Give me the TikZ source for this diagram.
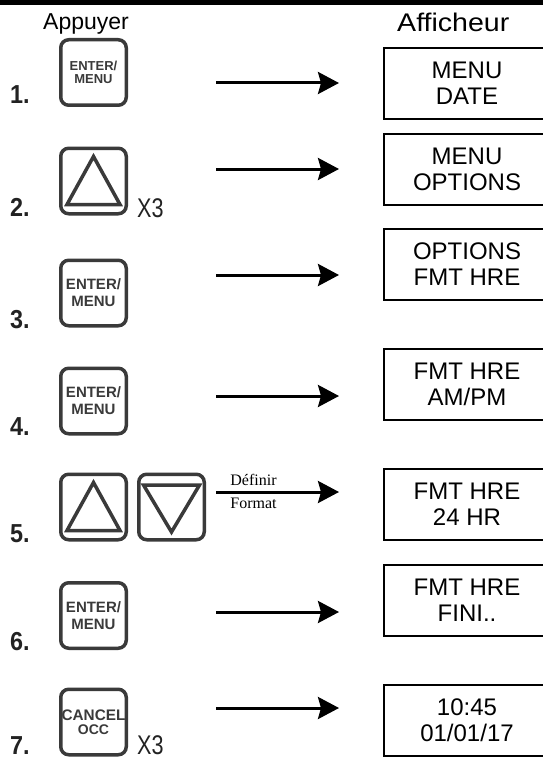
\documentclass[tikz,border=0pt]{standalone}
\usepackage{fontspec}
\setmainfont{Liberation Sans}
\newfontfamily\condfont[FakeStretch=0.8]{Liberation Sans}
\newfontfamily\numfont[FakeStretch=0.9]{Liberation Sans}
\newfontfamily\widefont[FakeStretch=1.12]{Liberation Sans}
\newfontfamily\serfont{Liberation Serif}
\usetikzlibrary{arrows.meta}
\definecolor{btngray}{HTML}{3A3A3A}
\definecolor{numgray}{HTML}{222222}
\tikzset{
  btn/.style={draw=btngray, line width=3.5pt, rounded corners=8pt,
    minimum width=65.5pt, minimum height=65.5pt, inner sep=0pt,
    align=center, text=btngray, font=\bfseries\fontsize{15}{17}\selectfont},
  btnsmall/.style={btn, font=\bfseries\fontsize{13}{13.5}\selectfont},
  disp/.style={draw=black, line width=2pt, minimum width=166pt,
    minimum height=71pt, inner sep=0pt, align=center,
    font=\fontsize{24}{26}\selectfont},
  num/.style={anchor=base west, inner sep=0pt, text=numgray,
    font=\numfont\bfseries\fontsize{26}{26}\selectfont},
  times/.style={anchor=base west, inner sep=0pt, text=numgray,
    font=\condfont\fontsize{27}{27}\selectfont},
  title/.style={anchor=base west, inner sep=0pt},
  flow/.style={line width=3pt, -{Stealth[length=21pt,width=22pt,inset=3pt]}},
  tri/.style={draw=btngray, line width=3.5pt, line join=miter},
  lbl/.style={inner sep=0pt, font=\serfont\fontsize{16}{16}\selectfont}
}
\begin{document}
\begin{tikzpicture}[x=1pt,y=-1pt]
\useasboundingbox (0,0) rectangle (543,757);
\fill[black] (0,0) rectangle (543,5);
% titles
\node[title, font=\fontsize{23}{23}\selectfont] (tapp) at (43,30) {Appuyer};
\node[title, font=\widefont\fontsize{25.5}{25.5}\selectfont] (taff) at (397,32) {Afficheur};
% row 1
\node[btnsmall] (b1) at (93.5,72.5) {ENTER/\\MENU};
\node[num] (n1) at (10,104) {1.};
\node[disp] (d1) at (467,83.5) {MENU\\DATE};
\coordinate (s1) at (216,83); \coordinate (e1) at (339,83);
\draw[flow] (s1) -- (e1);
% row 2
\node[btn] (b2) at (93.5,181) {};
\draw[tri] ([yshift=24.5pt]b2.center) -- ([xshift=-26.5pt,yshift=-23.5pt]b2.center) -- ([xshift=26.5pt,yshift=-23.5pt]b2.center) -- cycle;
\node[num] (n2) at (10,216) {2.};
\node[times] (x2) at (137,217) {X3};
\node[disp] (d2) at (467,169) {MENU\\OPTIONS};
\coordinate (s2) at (216,169); \coordinate (e2) at (339,169);
\draw[flow] (s2) -- (e2);
% row 3
\node[btn] (b3) at (93.5,293) {ENTER/\\MENU};
\node[num] (n3) at (10,328) {3.};
\node[disp] (d3) at (467,264.5) {OPTIONS\\FMT HRE};
\coordinate (s3) at (216,275); \coordinate (e3) at (339,275);
\draw[flow] (s3) -- (e3);
% row 4
\node[btn] (b4) at (93.5,401) {ENTER/\\MENU};
\node[num] (n4) at (10,435) {4.};
\node[disp] (d4) at (467,384) {FMT HRE\\AM/PM};
\coordinate (s4) at (216,396); \coordinate (e4) at (339,396);
\draw[flow] (s4) -- (e4);
% row 5
\node[btn] (b5a) at (93.5,507) {};
\draw[tri] ([yshift=24.5pt]b5a.center) -- ([xshift=-26.5pt,yshift=-23.5pt]b5a.center) -- ([xshift=26.5pt,yshift=-23.5pt]b5a.center) -- cycle;
\node[btn] (b5b) at (171.5,507) {};
\draw[tri] ([yshift=-25pt]b5b.center) -- ([xshift=-28pt,yshift=22pt]b5b.center) -- ([xshift=28pt,yshift=22pt]b5b.center) -- cycle;
\node[num] (n5) at (10,542) {5.};
\node[disp] (d5) at (467,504) {FMT HRE\\24 HR};
\coordinate (s5) at (216,492); \coordinate (e5) at (339,492);
\draw[flow] (s5) -- node[lbl, above=5pt, xshift=-24pt] (l5a) {Définir} node[lbl, below=5pt, xshift=-24pt] (l5b) {Format} (e5);
% row 6
\node[btn] (b6) at (93.5,615.5) {ENTER/\\MENU};
\node[num] (n6) at (10,650) {6.};
\node[disp] (d6) at (467,600) {FMT HRE\\FINI..};
\coordinate (s6) at (216,612); \coordinate (e6) at (339,612);
\draw[flow] (s6) -- (e6);
% row 7
\node[btn, font=\bfseries\fontsize{15.3}{14}\selectfont] (b7) at (93.5,722) {CANCEL\\{\fontsize{14}{14}\selectfont OCC}};
\node[num] (n7) at (10,754) {7.};
\node[times] (x7) at (137,754) {X3};
\node[disp] (d7) at (467,720) {10:45\\01/01/17};
\coordinate (s7) at (216,708); \coordinate (e7) at (339,708);
\draw[flow] (s7) -- (e7);
\end{tikzpicture}
\end{document}
